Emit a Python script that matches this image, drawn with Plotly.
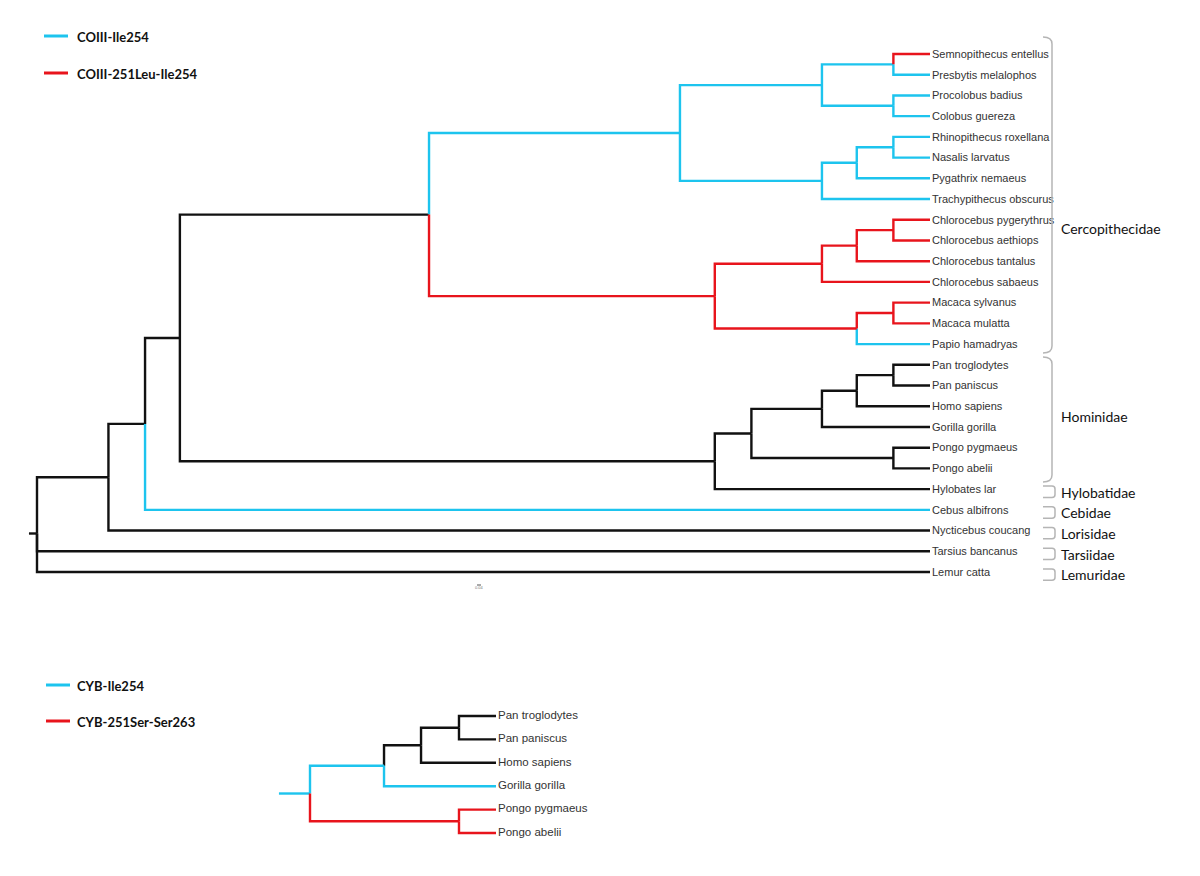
import plotly.graph_objects as go

# ---------------- DATA ----------------
# COIII tree (top)
coiii_leaves = [
    "Semnopithecus entellus", "Presbytis melalophos", "Procolobus badius", "Colobus guereza",
    "Rhinopithecus roxellana", "Nasalis larvatus", "Pygathrix nemaeus", "Trachypithecus obscurus",
    "Chlorocebus pygerythrus", "Chlorocebus aethiops", "Chlorocebus tantalus", "Chlorocebus sabaeus",
    "Macaca sylvanus", "Macaca mulatta", "Papio hamadryas", "Pan troglodytes", "Pan paniscus",
    "Homo sapiens", "Gorilla gorilla", "Pongo pygmaeus", "Pongo abelii", "Hylobates lar",
    "Cebus albifrons", "Nycticebus coucang", "Tarsius bancanus", "Lemur catta",
]
coiii_leaf_state = ["r", "b", "b", "b", "b", "b", "b", "b", "r", "r", "r", "r", "r", "r", "b",
                    "k", "k", "k", "k", "k", "k", "k", "b", "k", "k", "k"]
coiii_nodes = ["root", "A", "B", "C", "D", "E", "F", "semn", "proc", "G", "rp", "rhino", "I",
               "chl", "chl2", "chl3", "mac", "mac2", "H", "ga", "hg", "hp", "pan", "pongo"]
coiii_children = [
    ["A", "Tarsius bancanus", "Lemur catta"],
    ["B", "Nycticebus coucang"],
    ["C", "Cebus albifrons"],
    ["D", "H"],
    ["E", "I"],
    ["F", "G"],
    ["semn", "proc"],
    ["Semnopithecus entellus", "Presbytis melalophos"],
    ["Procolobus badius", "Colobus guereza"],
    ["rp", "Trachypithecus obscurus"],
    ["rhino", "Pygathrix nemaeus"],
    ["Rhinopithecus roxellana", "Nasalis larvatus"],
    ["chl", "mac"],
    ["chl2", "Chlorocebus sabaeus"],
    ["chl3", "Chlorocebus tantalus"],
    ["Chlorocebus pygerythrus", "Chlorocebus aethiops"],
    ["mac2", "Papio hamadryas"],
    ["Macaca sylvanus", "Macaca mulatta"],
    ["ga", "Hylobates lar"],
    ["hg", "pongo"],
    ["hp", "Gorilla gorilla"],
    ["pan", "Homo sapiens"],
    ["Pan troglodytes", "Pan paniscus"],
    ["Pongo pygmaeus", "Pongo abelii"],
]
coiii_depth = [0.0, 0.080, 0.121, 0.160, 0.439, 0.720, 0.879, 0.959, 0.959, 0.879, 0.918, 0.959,
               0.759, 0.879, 0.918, 0.959, 0.918, 0.959, 0.759, 0.800, 0.879, 0.918, 0.959, 0.959]
coiii_node_state = ["k", "k", "k", "k", "k", "b", "b", "b", "b", "b", "b", "b", "r", "r", "r", "r",
                    "r", "r", "k", "k", "k", "k", "k", "k"]
coiii_root_branch = 0.009
coiii_root_state = "k"

families = ["Cercopithecidae", "Hominidae", "Hylobatidae", "Cebidae", "Lorisidae", "Tarsiidae", "Lemuridae"]
family_first = [0, 15, 21, 22, 23, 24, 25]
family_last = [14, 20, 21, 22, 23, 24, 25]

# CYB tree (bottom)
cyb_leaves = ["Pan troglodytes", "Pan paniscus", "Homo sapiens", "Gorilla gorilla", "Pongo pygmaeus", "Pongo abelii"]
cyb_leaf_state = ["k", "k", "k", "b", "r", "r"]
cyb_nodes = ["root", "hgp", "hp", "pan", "pongo"]
cyb_children = [
    ["hgp", "pongo"],
    ["hp", "Gorilla gorilla"],
    ["pan", "Homo sapiens"],
    ["Pan troglodytes", "Pan paniscus"],
    ["Pongo pygmaeus", "Pongo abelii"],
]
cyb_depth = [0.0, 0.398, 0.597, 0.801, 0.801]
cyb_node_state = ["b", "b", "k", "k", "r"]
cyb_root_branch = 0.167
cyb_root_state = "b"

legend_top = [("COIII-Ile254", "b"), ("COIII-251Leu-Ile254", "r")]
legend_bottom = [("CYB-Ile254", "b"), ("CYB-251Ser-Ser263", "r")]
scale_label = "0.04"

# ---------------- STYLE ----------------
W, H = 1200, 876
COL = {"k": "#111111", "b": "#1DC4EE", "r": "#E8141C"}
BR_W = 2.4
TOP_LABEL_FONT = dict(family="Liberation Sans, Arial, sans-serif", size=11, color="#333333")
BOT_LABEL_FONT = dict(family="Liberation Sans, Arial, sans-serif", size=11.5, color="#333333")
FAM_FONT = dict(family="Lato, Open Sans, sans-serif", size=14, color="#111111")
LEG_FONT = dict(family="Lato, Open Sans, sans-serif", size=13, color="#111111")
BRACKET_COL = "#B5B5B5"


def build_tree(leaves, leaf_state, nodes, children, depth, node_state, root_branch, root_state):
    dep = {n: d for n, d in zip(nodes, depth)}
    st = {n: s for n, s in zip(nodes, node_state)}
    for l, s in zip(leaves, leaf_state):
        dep[l] = 1.0
        st[l] = s
    ch = {n: c for n, c in zip(nodes, children)}
    y = {l: float(i) for i, l in enumerate(leaves)}

    def gy(n):
        if n not in y:
            vals = [gy(c) for c in ch[n]]
            y[n] = sum(vals) / len(vals)
        return y[n]

    gy(nodes[0])
    segs = {k: ([], []) for k in COL}
    for n in nodes:
        for c in ch[n]:
            xs, ys = segs[st[c]]
            xs += [dep[n], dep[n], dep[c], None]
            ys += [y[n], y[c], y[c], None]
    xs, ys = segs[root_state]
    xs += [-root_branch, 0.0, None]
    ys += [y[nodes[0]], y[nodes[0]], None]
    return segs, y


fig = go.Figure()

# top tree pixel anchors
T_X0, T_X1 = 37.0, 930.0      # root / tips
T_Y0, T_DY = 54.0, 20.72      # first leaf, leaf spacing
# bottom tree pixel anchors
B_X0, B_X1 = 310.0, 496.0
B_Y0, B_DY = 716.0, 23.4
LABEL_GAP = 2.0  # px between tip and label

segs, ytop = build_tree(coiii_leaves, coiii_leaf_state, coiii_nodes, coiii_children, coiii_depth,
                        coiii_node_state, coiii_root_branch, coiii_root_state)
for k, (xs, ys) in segs.items():
    if xs:
        fig.add_trace(go.Scatter(x=xs, y=ys, mode="lines", line=dict(color=COL[k], width=BR_W),
                                 hoverinfo="skip", xaxis="x", yaxis="y"))
fig.add_trace(go.Scatter(x=[1.0 + LABEL_GAP / (T_X1 - T_X0)] * len(coiii_leaves),
                         y=[i + 0.05 for i in range(len(coiii_leaves))],
                         mode="text", text=coiii_leaves, textposition="middle right",
                         textfont=TOP_LABEL_FONT, xaxis="x", yaxis="y", hoverinfo="skip"))

segs2, ybot = build_tree(cyb_leaves, cyb_leaf_state, cyb_nodes, cyb_children, cyb_depth,
                         cyb_node_state, cyb_root_branch, cyb_root_state)
for k, (xs, ys) in segs2.items():
    if xs:
        fig.add_trace(go.Scatter(x=xs, y=ys, mode="lines", line=dict(color=COL[k], width=BR_W),
                                 hoverinfo="skip", xaxis="x2", yaxis="y2"))
fig.add_trace(go.Scatter(x=[1.0 + LABEL_GAP / (B_X1 - B_X0)] * len(cyb_leaves),
                         y=list(range(len(cyb_leaves))),
                         mode="text", text=cyb_leaves, textposition="middle right",
                         textfont=BOT_LABEL_FONT, xaxis="x2", yaxis="y2", hoverinfo="skip"))


def px_range(a0, a1, v0, v1, total):
    # value v0 at pixel a0, v1 at pixel a1 -> range covering pixels 0..total
    s = (v1 - v0) / (a1 - a0)
    return [v0 - a0 * s, v0 + (total - a0) * s]


def tpx(i):
    return T_Y0 + T_DY * i


shapes = []
annotations = []

# family brackets
pads = {"Cercopithecidae": (-0.82, 0.43), "Hominidae": (-0.38, 0.66)}
label_pos = {"Cercopithecidae": 8.4}
for fam, f0, f1 in zip(families, family_first, family_last):
    if f1 > f0:
        p0, p1 = pads.get(fam, (-0.6, 0.5))
        ya, yb = tpx(f0 + p0), tpx(f1 + p1)
        xa, xb = 1043, 1052
        path = (f"M {xa/W},{1-ya/H} Q {xb/W},{1-ya/H} {xb/W},{1-(ya+7)/H} "
                f"L {xb/W},{1-(yb-7)/H} Q {xb/W},{1-yb/H} {xa/W},{1-yb/H}")
        ly = tpx(label_pos.get(fam, (f0 + f1) / 2))
    else:
        ya, yb = tpx(f0 - 0.15), tpx(f0 + 0.4)
        xa, xb = 1043, 1055
        path = (f"M {xa/W},{1-ya/H} L {(xb-3)/W},{1-ya/H} Q {xb/W},{1-ya/H} {xb/W},{1-(ya+3)/H} "
                f"L {xb/W},{1-(yb-3)/H} Q {xb/W},{1-yb/H} {(xb-3)/W},{1-yb/H} L {xa/W},{1-yb/H}")
        ly = tpx(f0 + 0.14)
    shapes.append(dict(type="path", path=path, xref="paper", yref="paper",
                       line=dict(color=BRACKET_COL, width=1.5)))
    annotations.append(dict(x=1059 / W, y=1 - ly / H, xref="paper", yref="paper", text=fam,
                            showarrow=False, xanchor="left", yanchor="middle", font=FAM_FONT))

# legends
for (lab, s), ly in zip(legend_top + legend_bottom, [36, 73, 685, 721]):
    x0 = 44 if ly < 300 else 46
    shapes.append(dict(type="line", xref="paper", yref="paper", x0=x0 / W, x1=(x0 + 24) / W,
                       y0=1 - ly / H, y1=1 - ly / H, line=dict(color=COL[s], width=3)))
    annotations.append(dict(x=75 / W, y=1 - (ly + 1) / H, xref="paper", yref="paper",
                            text=f"<b>{lab}</b>", showarrow=False, xanchor="left",
                            yanchor="middle", font=LEG_FONT))

# tiny scale bar
shapes.append(dict(type="line", xref="paper", yref="paper", x0=477 / W, x1=481 / W,
                   y0=1 - 585 / H, y1=1 - 585 / H, line=dict(color="#555555", width=1)))
annotations.append(dict(x=479 / W, y=1 - 592 / H, xref="paper", yref="paper", text=scale_label,
                        showarrow=False, font=dict(size=4, color="#777777",
                                                   family="Liberation Sans, Arial")))

ax_common = dict(visible=False, showgrid=False, zeroline=False, fixedrange=True)
fig.update_layout(
    width=W, height=H, margin=dict(l=0, r=0, t=0, b=0),
    paper_bgcolor="white", plot_bgcolor="rgba(0,0,0,0)", showlegend=False,
    xaxis=dict(domain=[0, 1], range=px_range(T_X0, T_X1, 0.0, 1.0, W), **ax_common),
    yaxis=dict(domain=[0, 1], range=px_range(T_Y0, T_Y0 + T_DY, 0.0, 1.0, H)[::-1], **ax_common),
    xaxis2=dict(domain=[0, 1], range=px_range(B_X0, B_X1, 0.0, 1.0, W), anchor="y2", **ax_common),
    yaxis2=dict(domain=[0, 1], range=px_range(B_Y0, B_Y0 + B_DY, 0.0, 1.0, H)[::-1], anchor="x2",
                **ax_common),
    shapes=shapes, annotations=annotations,
)

fig.write_html("out.html", config={"displayModeBar": False},
               post_script="document.body.style.margin='0';")
